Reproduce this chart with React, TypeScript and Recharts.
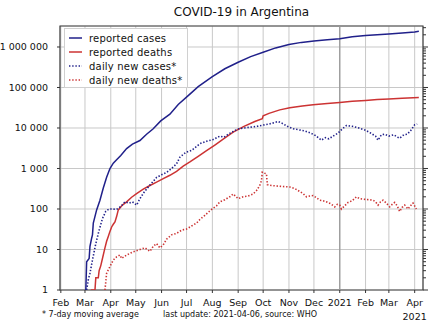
import {
  CartesianGrid,
  Line,
  LineChart,
  ReferenceArea,
  ReferenceLine,
  XAxis,
  YAxis,
} from 'recharts'

// x values are days since 2020-02-01
const monthTicks = [0, 29, 60, 90, 121, 151, 182, 213, 243, 274, 304, 335, 366, 394, 425]
const monthLabels = ['Feb', 'Mar', 'Apr', 'May', 'Jun', 'Jul', 'Aug', 'Sep', 'Oct', 'Nov', 'Dec', '2021', 'Feb', 'Mar', 'Apr']
const decadeTicks = [1, 10, 100, 1000, 10000, 100000, 1000000]
const decadeLabels = ['1', '10', '100', '1 000', '10 000', '100 000', '1 000 000']
const minorSteps = [1, 2, 3, 4, 5, 6, 7, 8, 9]

const reportedCases: [number, number][] = [
  [30, 1], [31, 5], [34, 6], [35, 12], [37, 19], [38, 23], [39, 45], [43, 95], [47, 165],
  [51, 330], [55, 610], [59, 1000], [63, 1350], [67, 1650], [72, 2100], [79, 3100], [86, 4000],
  [95, 4900], [103, 7000], [111, 9600], [120, 15000], [131, 22000], [141, 38000], [153, 63000],
  [165, 105000], [182, 185000], [197, 290000], [213, 420000], [228, 580000], [243, 740000],
  [258, 950000], [274, 1150000], [289, 1300000], [304, 1410000], [320, 1500000], [335, 1600000],
  [350, 1780000], [366, 1920000], [380, 2020000], [394, 2100000], [410, 2230000], [425, 2360000],
  [430, 2450000],
]

const reportedDeaths: [number, number][] = [
  [36, 1], [41, 1], [42, 2], [45, 2], [46, 3], [48, 4], [50, 6], [52, 9], [53, 11], [55, 16],
  [57, 21], [59, 28], [61, 36], [63, 42], [65, 48], [67, 65], [69, 95], [74, 125], [79, 150],
  [85, 195], [91, 240], [99, 310], [107, 380], [115, 460], [123, 560], [131, 680], [139, 850],
  [147, 1150], [155, 1450], [165, 2000], [175, 2750], [185, 3800], [195, 5300], [207, 7900],
  [220, 11000], [233, 14500], [242, 17000], [243, 20000], [250, 23000], [263, 28000],
  [275, 31500], [290, 35000], [303, 37500], [320, 40000], [335, 42500], [350, 45500],
  [366, 48000], [380, 50500], [394, 52000], [410, 54500], [430, 56500],
]

const dailyCases: [number, number][] = [
  [31, 1], [33, 1.8], [35, 2.6], [38, 5.5], [42, 14], [46, 30], [50, 58], [54, 88], [58, 100],
  [62, 100], [67, 98], [72, 115], [77, 150], [82, 140], [86, 150], [91, 125], [95, 180],
  [100, 260], [107, 390], [115, 600], [121, 700], [127, 800], [133, 1000], [139, 1300],
  [143, 1900], [150, 2500], [157, 2800], [163, 3500], [167, 4100], [175, 4700], [183, 5200],
  [191, 6300], [196, 5900], [201, 7000], [207, 8200], [213, 9500], [220, 10000], [228, 10500],
  [236, 11000], [243, 11800], [250, 12500], [256, 13500], [261, 14500], [266, 13000],
  [272, 11000], [279, 9600], [286, 9000], [293, 8500], [300, 7500], [306, 6500], [313, 5000],
  [318, 5800], [322, 5400], [327, 6300], [333, 7500], [338, 9500], [343, 11500], [350, 11000],
  [358, 10000], [366, 8800], [372, 7500], [378, 6300], [381, 5000], [385, 6800], [389, 7000],
  [394, 6300], [400, 6800], [404, 6000], [407, 5600], [412, 6800], [416, 7000], [420, 8500],
  [425, 12000], [428, 12500],
]

const dailyDeaths: [number, number][] = [
  [53, 1], [55, 2.6], [59, 3.8], [63, 5.5], [67, 6.6], [71, 7.3], [73, 6], [79, 7.3], [87, 8.8],
  [95, 10], [101, 11], [107, 9], [111, 12], [115, 14], [119, 11], [123, 13], [127, 18],
  [133, 23], [139, 25], [145, 30], [151, 32], [157, 38], [163, 45], [167, 55], [173, 70],
  [179, 90], [183, 105], [187, 120], [191, 150], [197, 170], [203, 200], [207, 235], [213, 180],
  [219, 200], [225, 210], [231, 235], [236, 300], [239, 390], [241, 500], [242, 810], [245, 760],
  [247, 740], [248, 400], [253, 380], [259, 370], [266, 360], [275, 350], [281, 320], [287, 270],
  [291, 240], [295, 200], [299, 210], [303, 215], [307, 190], [311, 165], [315, 160], [319, 150],
  [324, 135], [329, 113], [332, 130], [335, 125], [337, 100], [341, 120], [345, 145], [350, 160],
  [355, 200], [359, 180], [363, 175], [369, 170], [375, 165], [378, 150], [381, 125], [384, 150],
  [387, 165], [391, 140], [395, 113], [398, 130], [401, 145], [404, 120], [407, 87], [410, 110],
  [413, 125], [417, 100], [420, 120], [423, 140], [427, 100],
]

const BLUE = '#20208a'
const RED = '#cc3333'
const FONT = '"DejaVu Sans", sans-serif'
const X_DOMAIN = [-1, 435]
const Y_DOMAIN = [1, 3300000]

const minorTicks = decadeTicks.flatMap((d) => minorSteps.map((k) => k * d)).filter((v) => v <= Y_DOMAIN[1])

const toPoints = (rows: [number, number][]) => rows.map(([d, v]) => ({ d, v }))

const series = [
  { name: 'reported cases', rows: reportedCases, color: BLUE, dotted: false },
  { name: 'reported deaths', rows: reportedDeaths, color: RED, dotted: false },
  { name: 'daily new cases*', rows: dailyCases, color: BLUE, dotted: true },
  { name: 'daily new deaths*', rows: dailyDeaths, color: RED, dotted: true },
]

function MonthTick({ x, y, payload }: any) {
  const i = monthTicks.indexOf(payload.value)
  return (
    <text x={x} y={y + 9.5} textAnchor='middle' fontSize={9.5} fontFamily={FONT} fill='#111'>
      <tspan x={x}>{monthLabels[i]}</tspan>
      {i === monthTicks.length - 1 && (
        <tspan x={x} dy={14}>2021</tspan>
      )}
    </text>
  )
}

function ValueTick({ x, y, payload }: any) {
  return (
    <text x={x} y={y + 3.4} textAnchor='end' fontSize={9.5} fontFamily={FONT} fill='#111' style={{ whiteSpace: 'pre' }}>
      {decadeLabels[decadeTicks.indexOf(payload.value)]}
    </text>
  )
}

function RightTick({ x, y, payload }: any) {
  const major = decadeTicks.includes(payload.value)
  return <line x1={x} x2={x + (major ? 5 : 3)} y1={y} y2={y} stroke='#333' strokeWidth={1} />
}

export default function App() {
  return (
    <div style={{ position: 'absolute', left: 0, top: 0, width: 440, height: 330, background: '#fff', fontFamily: FONT }}>
      <div style={{ position: 'absolute', left: 60, width: 363, top: 5, textAlign: 'center', fontSize: 12, color: '#111' }}>
        COVID-19 in Argentina
      </div>
      <LineChart width={440} height={330} margin={{ top: 26, right: 0, bottom: 0, left: 0 }}>
        <CartesianGrid stroke='#c8c8c8' strokeWidth={1} />
        <ReferenceLine x={335} stroke='#9a9a9a' strokeWidth={1.3} />
        <XAxis
          dataKey='d'
          type='number'
          domain={X_DOMAIN}
          ticks={monthTicks}
          interval={0}
          height={40}
          allowDataOverflow
          axisLine={false}
          tickLine={{ stroke: '#333' }}
          tickSize={3}
          tickMargin={3}
          tick={<MonthTick />}
        />
        <YAxis
          scale='log'
          domain={Y_DOMAIN}
          ticks={decadeTicks}
          interval={0}
          width={60}
          allowDataOverflow
          axisLine={false}
          tickLine={{ stroke: '#333' }}
          tickSize={3}
          tickMargin={9}
          tick={<ValueTick />}
        />
        <YAxis
          yAxisId='r'
          orientation='right'
          scale='log'
          domain={Y_DOMAIN}
          ticks={minorTicks}
          interval={0}
          width={17}
          allowDataOverflow
          axisLine={false}
          tickLine={false}
          tickSize={0}
          tickMargin={0}
          tick={<RightTick />}
        />
        <ReferenceArea
          x1={X_DOMAIN[0]}
          x2={X_DOMAIN[1]}
          y1={Y_DOMAIN[0]}
          y2={Y_DOMAIN[1]}
          fill='none'
          stroke='#444'
          strokeWidth={1.2}
          ifOverflow='visible'
        />
        {series.map((s) => (
          <Line
            key={s.name}
            data={toPoints(s.rows)}
            dataKey='v'
            type='linear'
            stroke={s.color}
            strokeWidth={s.dotted ? 1.6 : 1.5}
            strokeDasharray={s.dotted ? '1.4 1.8' : undefined}
            dot={false}
            isAnimationActive={false}
          />
        ))}
      </LineChart>
      <div
        style={{
          position: 'absolute', left: 64, top: 28, width: 124, height: 60, boxSizing: 'border-box',
          background: '#fff', border: '1px solid #d0d0d0', fontSize: 10, color: '#111',
          padding: '2px 0 0 3px',
        }}
      >
        {series.map((s) => (
          <div key={s.name} style={{ display: 'flex', alignItems: 'center', height: 14 }}>
            <svg width={20} height={14}>
              <line
                x1={1} x2={14} y1={7} y2={7}
                stroke={s.color}
                strokeWidth={1.5}
                strokeDasharray={s.dotted ? '1.4 1.8' : undefined}
              />
            </svg>
            <span style={{ marginLeft: 1, letterSpacing: 0.2 }}>{s.name}</span>
          </div>
        ))}
      </div>
      <div style={{ position: 'absolute', left: 42, top: 310, fontSize: 8, color: '#111' }}>* 7-day moving average</div>
      <div style={{ position: 'absolute', left: 163, top: 310, fontSize: 8, color: '#111' }}>last update: 2021-04-06, source: WHO</div>
    </div>
  )
}
